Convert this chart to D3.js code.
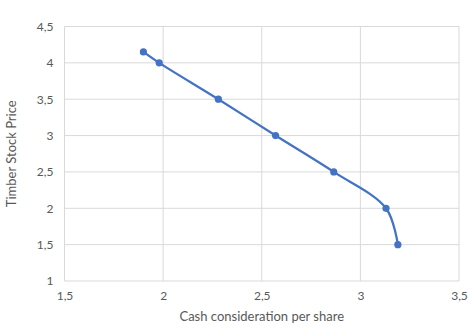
<!DOCTYPE html>
<html>
<head>
<meta charset="utf-8">
<script src="https://cdn.jsdelivr.net/npm/d3@7"></script>
<style>
  body { margin: 0; background: #fff; }
  text { font-family: Lato, 'Open Sans', sans-serif; fill: #595959; }
</style>
</head>
<body>
<div class="chart"></div>
<script>
// Data
const cashPerShare = [1.90, 1.98, 2.28, 2.57, 2.865, 3.13, 3.19]
const stockPrice = [4.15, 4.0, 3.5, 3.0, 2.5, 2.0, 1.5]
const xTicks = [1.5, 2, 2.5, 3, 3.5]
const yTicks = [1, 1.5, 2, 2.5, 3, 3.5, 4, 4.5]

const width = 473
const height = 335
const margin = {top: 26.5, right: 14, bottom: 54, left: 64.5}
const innerW = width - margin.left - margin.right
const innerH = height - margin.top - margin.bottom

const fmt = (d) => String(d).replace('.', ',')

const svg = d3.select('.chart')
  .append('svg')
    .attr('width', width)
    .attr('height', height)

const g = svg.append('g')
  .attr('transform', `translate(${margin.left},${margin.top})`)

const x = d3.scaleLinear().domain([1.5, 3.5]).range([0, innerW])
const y = d3.scaleLinear().domain([1, 4.5]).range([innerH, 0])

// gridlines
g.append('g')
  .selectAll('line')
  .data(xTicks)
  .enter().append('line')
    .attr('x1', (d) => x(d)).attr('x2', (d) => x(d))
    .attr('y1', 0).attr('y2', innerH)
    .style('stroke', '#d9d9d9')

g.append('g')
  .selectAll('line')
  .data(yTicks)
  .enter().append('line')
    .attr('x1', 0).attr('x2', innerW)
    .attr('y1', (d) => y(d)).attr('y2', (d) => y(d))
    .style('stroke', '#d9d9d9')

// axes
const xAxis = d3.axisBottom(x).tickValues(xTicks).tickFormat(fmt).tickSize(0).tickPadding(10)
const yAxis = d3.axisLeft(y).tickValues(yTicks).tickFormat(fmt).tickSize(0).tickPadding(11)

g.append('g')
    .attr('transform', `translate(0,${innerH})`)
    .call(xAxis)
    .call((s) => s.select('.domain').remove())
  .selectAll('text')
    .style('font-size', '12px')
    .style('fill', '#595959')

g.append('g')
    .call(yAxis)
    .call((s) => s.select('.domain').remove())
  .selectAll('text')
    .style('font-size', '12px')
    .style('fill', '#595959')

// series
const data = cashPerShare.map((c, i) => ({x: c, y: stockPrice[i]}))

const line = d3.line()
  .x((d) => x(d.x))
  .y((d) => y(d.y))
  .curve(d3.curveCatmullRom.alpha(0.5))

g.append('path')
  .datum(data)
  .attr('d', line)
  .style('fill', 'none')
  .style('stroke', '#4472c4')
  .style('stroke-width', 2.25)

g.selectAll('circle')
  .data(data)
  .enter().append('circle')
    .attr('cx', (d) => x(d.x))
    .attr('cy', (d) => y(d.y))
    .attr('r', 3.6)
    .style('fill', '#4472c4')

// titles
svg.append('text')
  .attr('x', margin.left + innerW / 2)
  .attr('y', 321)
  .attr('text-anchor', 'middle')
  .style('font-size', '13px')
  .text('Cash consideration per share')

svg.append('text')
  .attr('transform', `translate(16,${margin.top + innerH / 2}) rotate(-90)`)
  .attr('text-anchor', 'middle')
  .style('font-size', '13px')
  .text('Timber Stock Price')
</script>
</body>
</html>
